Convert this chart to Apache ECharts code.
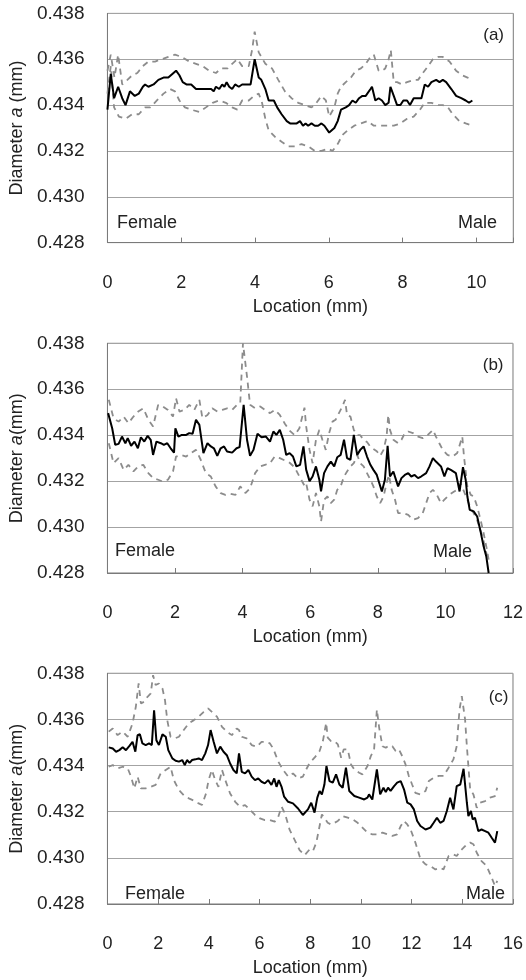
<!DOCTYPE html>
<html><head><meta charset="utf-8">
<script src="https://cdn.jsdelivr.net/npm/echarts@6/dist/echarts.min.js"></script>
<style>html,body{margin:0;padding:0;background:#fff}#c{width:526px;height:980px}</style>
</head><body><div id="c"></div>
<script>
// ---- axis settings ----
const yMin = 0.428, yMax = 0.438, yStep = 0.002;
const xMaxA = 11, xMaxB = 12, xMaxC = 16, xStep = 2;
const panelTags = ['(a)', '(b)', '(c)'];
const endLabels = ['Female', 'Male'];
const yNames = ['Diameter |a| (mm)', 'Diameter |a|(mm)', 'Diameter |a|(mm)'];

// ---- panel (a) ----
const meanA = [[0,0.4338],[0.09,0.43536],[0.18,0.4343],[0.29,0.4348],[0.40,0.4343],[0.49,0.4340],[0.61,0.4346],[0.74,0.4344],[0.85,0.4345],[0.96,0.4348],[1.02,0.4349],[1.11,0.4348],[1.25,0.4349],[1.38,0.4351],[1.52,0.4352],[1.65,0.4352],[1.79,0.4354],[1.86,0.4355],[1.95,0.4353],[2.04,0.4350],[2.14,0.4349],[2.27,0.4349],[2.40,0.4347],[2.54,0.4347],[2.67,0.4347],[2.81,0.4347],[2.88,0.4346],[2.94,0.4348],[3.03,0.4347],[3.11,0.4349],[3.17,0.4348],[3.23,0.4350],[3.30,0.4348],[3.38,0.4347],[3.46,0.4349],[3.56,0.4348],[3.65,0.4349],[3.88,0.4349],[3.99,0.4360],[4.10,0.4352],[4.17,0.4351],[4.28,0.4347],[4.37,0.4342],[4.51,0.4342],[4.60,0.4339],[4.72,0.4336],[4.86,0.4333],[4.95,0.4332],[5.13,0.4332],[5.22,0.4333],[5.30,0.4331],[5.37,0.4332],[5.44,0.4331],[5.53,0.4332],[5.62,0.4331],[5.71,0.4331],[5.80,0.4332],[5.88,0.4331],[6.01,0.4328],[6.15,0.4330],[6.24,0.4333],[6.33,0.4338],[6.46,0.4339],[6.55,0.4340],[6.64,0.4342],[6.73,0.4341],[6.82,0.4343],[6.91,0.4344],[7.00,0.4344],[7.13,0.4347],[7.17,0.4348],[7.26,0.4342],[7.35,0.4343],[7.44,0.4342],[7.53,0.4340],[7.62,0.4341],[7.67,0.4348],[7.76,0.4344],[7.85,0.4340],[7.94,0.4340],[8.02,0.4342],[8.12,0.4342],[8.20,0.4340],[8.30,0.4343],[8.37,0.4343],[8.51,0.4343],[8.60,0.4349],[8.69,0.4348],[8.78,0.4350],[8.91,0.4351],[9.00,0.4350],[9.09,0.4351],[9.18,0.4350],[9.32,0.4347],[9.45,0.4344],[9.59,0.4343],[9.71,0.4342],[9.80,0.4341],[9.89,0.4342]];
const upperA = [[0,0.4355],[0.09,0.4362],[0.19,0.4352],[0.29,0.4362],[0.40,0.4349],[0.54,0.4351],[0.67,0.4353],[0.81,0.4354],[0.96,0.4357],[1.11,0.4359],[1.29,0.4359],[1.47,0.4360],[1.65,0.4361],[1.83,0.4362],[2.01,0.4361],[2.22,0.4359],[2.40,0.4358],[2.58,0.4357],[2.76,0.4355],[2.94,0.4354],[3.08,0.4356],[3.26,0.4356],[3.38,0.4358],[3.52,0.4360],[3.65,0.4357],[3.83,0.4357],[3.92,0.4364],[3.99,0.4372],[4.10,0.4363],[4.28,0.4358],[4.46,0.4356],[4.63,0.4351],[4.81,0.4346],[4.99,0.4343],[5.17,0.4341],[5.35,0.4340],[5.53,0.4339],[5.62,0.4340],[5.80,0.4344],[5.92,0.4342],[6.01,0.4335],[6.15,0.4339],[6.24,0.4345],[6.33,0.4348],[6.46,0.4350],[6.60,0.4352],[6.73,0.4355],[6.87,0.4356],[7.00,0.4358],[7.13,0.4361],[7.22,0.4362],[7.35,0.4355],[7.44,0.4355],[7.53,0.4356],[7.62,0.4360],[7.68,0.4364],[7.76,0.4350],[7.85,0.4350],[7.98,0.4349],[8.12,0.4350],[8.30,0.4351],[8.42,0.4351],[8.55,0.4354],[8.69,0.4357],[8.82,0.4360],[8.96,0.4361],[9.09,0.4361],[9.27,0.4359],[9.45,0.4355],[9.62,0.4353],[9.76,0.4352],[9.89,0.4351]];
const lowerA = [[0,0.4345],[0.09,0.4357],[0.18,0.4339],[0.31,0.4335],[0.49,0.4334],[0.67,0.4336],[0.85,0.4336],[1.02,0.4339],[1.16,0.4339],[1.34,0.4342],[1.52,0.4345],[1.70,0.4347],[1.83,0.4346],[1.95,0.4342],[2.10,0.4339],[2.27,0.4338],[2.49,0.4337],[2.67,0.4339],[2.85,0.4341],[3.03,0.4342],[3.21,0.4341],[3.38,0.4339],[3.52,0.4338],[3.65,0.4342],[3.83,0.4342],[3.97,0.4344],[4.10,0.4345],[4.19,0.4341],[4.28,0.4334],[4.37,0.4329],[4.55,0.4326],[4.72,0.4324],[4.90,0.4322],[5.08,0.4322],[5.26,0.4323],[5.44,0.4322],[5.62,0.4320],[5.80,0.4320],[5.97,0.4321],[6.10,0.4320],[6.24,0.4323],[6.37,0.4327],[6.51,0.4329],[6.69,0.4331],[6.87,0.4332],[7.05,0.4333],[7.22,0.4331],[7.40,0.4331],[7.58,0.4331],[7.76,0.4331],[7.94,0.4332],[8.12,0.4334],[8.30,0.4335],[8.47,0.4338],[8.60,0.4341],[8.78,0.4341],[8.96,0.4340],[9.09,0.4340],[9.23,0.4339],[9.36,0.4336],[9.54,0.4333],[9.71,0.4332],[9.89,0.4331]];

// ---- panel (b) ----
const meanB = [[0.02,0.43496],[0.14,0.4343],[0.23,0.43358],[0.33,0.43362],[0.43,0.43394],[0.53,0.43365],[0.60,0.43387],[0.70,0.43354],[0.80,0.43372],[0.90,0.43343],[0.99,0.43391],[1.09,0.43372],[1.19,0.43397],[1.28,0.4338],[1.35,0.43314],[1.45,0.43372],[1.58,0.43365],[1.67,0.43358],[1.77,0.43365],[1.87,0.43343],[1.97,0.43324],[2.01,0.4343],[2.10,0.43394],[2.20,0.43401],[2.33,0.43401],[2.42,0.43409],[2.52,0.43406],[2.62,0.43467],[2.72,0.43445],[2.84,0.43322],[2.96,0.43365],[3.06,0.43351],[3.15,0.43343],[3.25,0.4331],[3.35,0.43343],[3.45,0.43351],[3.54,0.43329],[3.69,0.43324],[3.82,0.43343],[3.91,0.43348],[4.03,0.43532],[4.13,0.4338],[4.22,0.4331],[4.32,0.43336],[4.44,0.43406],[4.56,0.43391],[4.69,0.43394],[4.81,0.43372],[4.91,0.43416],[5.0,0.43401],[5.1,0.43423],[5.2,0.4338],[5.29,0.43314],[5.39,0.43322],[5.49,0.43307],[5.59,0.43264],[5.7,0.43271],[5.8,0.43351],[5.88,0.4325],[5.98,0.4320],[6.07,0.4322],[6.17,0.43264],[6.27,0.43206],[6.32,0.43155],[6.41,0.43235],[6.51,0.43264],[6.61,0.43285],[6.71,0.43264],[6.80,0.43304],[6.90,0.43314],[7.00,0.4338],[7.09,0.433],[7.19,0.43293],[7.29,0.43401],[7.39,0.43314],[7.48,0.43336],[7.58,0.43351],[7.68,0.43307],[7.78,0.43271],[7.87,0.43249],[7.97,0.43227],[8.12,0.43155],[8.21,0.43206],[8.29,0.43354],[8.36,0.4322],[8.46,0.43242],[8.60,0.43177],[8.70,0.43213],[8.80,0.43227],[8.90,0.43235],[8.99,0.4322],[9.09,0.43227],[9.19,0.43213],[9.28,0.4322],[9.43,0.43235],[9.53,0.43264],[9.63,0.433],[9.72,0.43285],[9.87,0.43264],[9.97,0.4322],[10.06,0.43256],[10.16,0.43249],[10.31,0.43235],[10.42,0.43155],[10.52,0.43261],[10.60,0.43206],[10.65,0.43133],[10.72,0.43075],[10.84,0.43068],[10.94,0.43046],[11.04,0.42981],[11.13,0.42916],[11.21,0.42872],[11.28,0.4280]];
const upperB = [[0.04,0.43554],[0.18,0.43474],[0.33,0.43459],[0.48,0.43481],[0.62,0.43452],[0.77,0.43481],[0.91,0.43503],[1.06,0.43517],[1.21,0.43467],[1.35,0.43438],[1.50,0.43532],[1.64,0.43525],[1.79,0.4351],[1.94,0.43481],[2.03,0.43561],[2.13,0.43503],[2.28,0.4351],[2.42,0.43532],[2.57,0.4351],[2.72,0.43554],[2.81,0.43474],[2.96,0.43488],[3.10,0.43517],[3.25,0.43503],[3.40,0.4351],[3.54,0.43517],[3.69,0.4351],[3.83,0.43532],[3.93,0.43539],[4.01,0.438],[4.13,0.43655],[4.22,0.43532],[4.37,0.43517],[4.52,0.43525],[4.66,0.4351],[4.81,0.43496],[4.95,0.4351],[5.10,0.43488],[5.25,0.4345],[5.39,0.4342],[5.54,0.4340],[5.68,0.4343],[5.83,0.4352],[5.88,0.43438],[5.98,0.43336],[6.07,0.43278],[6.17,0.4338],[6.27,0.43423],[6.36,0.4338],[6.46,0.43336],[6.56,0.43409],[6.66,0.43459],[6.75,0.43467],[6.85,0.43496],[6.95,0.43525],[7.03,0.43554],[7.09,0.43488],[7.19,0.43481],[7.29,0.43423],[7.39,0.43400],[7.48,0.4340],[7.58,0.4338],[7.68,0.4337],[7.78,0.4335],[7.87,0.4334],[7.97,0.4333],[8.07,0.4331],[8.17,0.43336],[8.26,0.43394],[8.31,0.43488],[8.36,0.43423],[8.46,0.4338],[8.60,0.43365],[8.70,0.4338],[8.80,0.43409],[8.90,0.43416],[9.04,0.43409],[9.19,0.43394],[9.33,0.43387],[9.48,0.43401],[9.63,0.43423],[9.72,0.43394],[9.82,0.43365],[9.92,0.43336],[10.06,0.43314],[10.21,0.43307],[10.35,0.43322],[10.50,0.43394],[10.55,0.43307],[10.65,0.43177],[10.75,0.4314],[10.84,0.43133],[10.94,0.4309],[11.04,0.43032],[11.13,0.42974],[11.23,0.42901],[11.28,0.42858]];
const lowerB = [[0.04,0.43365],[0.18,0.43278],[0.33,0.433],[0.48,0.43249],[0.62,0.43271],[0.77,0.43242],[0.91,0.43264],[1.06,0.43271],[1.21,0.43235],[1.35,0.43213],[1.50,0.43206],[1.64,0.43198],[1.79,0.43206],[1.94,0.43242],[2.03,0.43307],[2.18,0.43314],[2.33,0.43307],[2.47,0.43322],[2.62,0.43336],[2.76,0.43293],[2.91,0.43235],[3.06,0.4322],[3.20,0.43177],[3.35,0.43148],[3.49,0.4314],[3.64,0.43145],[3.79,0.4314],[3.93,0.43177],[4.08,0.43148],[4.22,0.43169],[4.37,0.43235],[4.52,0.43264],[4.66,0.43271],[4.81,0.43278],[4.95,0.43307],[5.10,0.4330],[5.25,0.4329],[5.39,0.4328],[5.54,0.4326],[5.68,0.4322],[5.83,0.4318],[5.88,0.43191],[5.98,0.43119],[6.07,0.4309],[6.17,0.43148],[6.27,0.4309],[6.32,0.43024],[6.41,0.43119],[6.51,0.43133],[6.61,0.43104],[6.71,0.43119],[6.80,0.43162],[6.90,0.43177],[7.00,0.4322],[7.09,0.43242],[7.19,0.43264],[7.29,0.43278],[7.39,0.43314],[7.48,0.43278],[7.58,0.43264],[7.68,0.43235],[7.78,0.43206],[7.87,0.43177],[7.97,0.43133],[8.07,0.43104],[8.17,0.43133],[8.26,0.43191],[8.33,0.43227],[8.41,0.43162],[8.51,0.43119],[8.60,0.43061],[8.75,0.43061],[8.90,0.43053],[9.04,0.43032],[9.19,0.43039],[9.33,0.43061],[9.43,0.43104],[9.53,0.43148],[9.63,0.43162],[9.72,0.43148],[9.87,0.43104],[9.97,0.43119],[10.11,0.4314],[10.26,0.43155],[10.35,0.43162],[10.45,0.43191],[10.55,0.43155],[10.65,0.43119],[10.75,0.4308],[10.84,0.4306],[10.94,0.4303],[11.04,0.42985],[11.13,0.4294],[11.23,0.42875]];

// ---- panel (c) ----
const meanC = [[0.05,0.43479],[0.21,0.43474],[0.34,0.4346],[0.47,0.43467],[0.60,0.43479],[0.73,0.43467],[0.86,0.43484],[0.99,0.43503],[1.10,0.4346],[1.19,0.43532],[1.28,0.43536],[1.38,0.43496],[1.51,0.43489],[1.64,0.43496],[1.75,0.43489],[1.84,0.4364],[1.93,0.4351],[2.03,0.43489],[2.17,0.43535],[2.30,0.43525],[2.40,0.43467],[2.56,0.43431],[2.69,0.43421],[2.82,0.43417],[2.95,0.43424],[3.05,0.43402],[3.14,0.43424],[3.24,0.43412],[3.34,0.43424],[3.47,0.43427],[3.60,0.43431],[3.73,0.43424],[3.86,0.43453],[3.97,0.43489],[4.07,0.43554],[4.19,0.43503],[4.32,0.43453],[4.45,0.43482],[4.58,0.4346],[4.71,0.43445],[4.84,0.43409],[4.97,0.43381],[5.10,0.43366],[5.19,0.43453],[5.30,0.43373],[5.43,0.43366],[5.56,0.43381],[5.69,0.43352],[5.82,0.43337],[5.95,0.43344],[6.08,0.4333],[6.21,0.43323],[6.34,0.43337],[6.47,0.43316],[6.58,0.43344],[6.67,0.43308],[6.76,0.43337],[6.87,0.43308],[6.97,0.43265],[7.13,0.43243],[7.32,0.43236],[7.52,0.43214],[7.71,0.43186],[7.78,0.43188],[7.91,0.4321],[8.04,0.43239],[8.17,0.43196],[8.28,0.43261],[8.37,0.4329],[8.46,0.43275],[8.56,0.43318],[8.64,0.43398],[8.76,0.43333],[8.89,0.43326],[9.02,0.43362],[9.15,0.43318],[9.28,0.43304],[9.41,0.43391],[9.54,0.4329],[9.74,0.43268],[9.93,0.43261],[10.13,0.43253],[10.26,0.43261],[10.32,0.43275],[10.45,0.43253],[10.63,0.43383],[10.76,0.43275],[10.89,0.43304],[10.98,0.43285],[11.07,0.43304],[11.17,0.4329],[11.31,0.43311],[11.43,0.43326],[11.57,0.43333],[11.70,0.43297],[11.83,0.43239],[11.96,0.43232],[12.09,0.4321],[12.22,0.4316],[12.35,0.43138],[12.55,0.43123],[12.74,0.43131],[12.87,0.43152],[13.00,0.43174],[13.13,0.43152],[13.26,0.4316],[13.39,0.43203],[13.52,0.43261],[13.65,0.4321],[13.78,0.43311],[13.92,0.43318],[14.05,0.43386],[14.18,0.43239],[14.24,0.43181],[14.34,0.43203],[14.41,0.43167],[14.50,0.43174],[14.63,0.43116],[14.76,0.43123],[14.90,0.43116],[15.03,0.43109],[15.16,0.43087],[15.29,0.43066],[15.38,0.43116]];
const upperC = [[0.05,0.43547],[0.21,0.43561],[0.40,0.43532],[0.60,0.43547],[0.80,0.43525],[0.99,0.43583],[1.12,0.43655],[1.23,0.43756],[1.32,0.43669],[1.45,0.43677],[1.58,0.43698],[1.71,0.43713],[1.80,0.43792],[1.90,0.43749],[2.03,0.43756],[2.17,0.43734],[2.27,0.43684],[2.36,0.43597],[2.49,0.43525],[2.66,0.43518],[2.82,0.43525],[3.01,0.43554],[3.21,0.43583],[3.41,0.43597],[3.60,0.43612],[3.80,0.43633],[3.97,0.43648],[4.12,0.43633],[4.32,0.43612],[4.52,0.43568],[4.71,0.43547],[4.91,0.43532],[5.10,0.43561],[5.19,0.43554],[5.30,0.43525],[5.49,0.43518],[5.69,0.43489],[5.89,0.43482],[6.08,0.43503],[6.28,0.43503],[6.41,0.43496],[6.54,0.43474],[6.74,0.43417],[6.93,0.43381],[7.13,0.43352],[7.32,0.43366],[7.52,0.43344],[7.71,0.43352],[7.84,0.43383],[7.98,0.43412],[8.17,0.43434],[8.37,0.43463],[8.50,0.43506],[8.63,0.43586],[8.69,0.43521],[8.82,0.43506],[8.96,0.43506],[9.09,0.43492],[9.22,0.43434],[9.32,0.4347],[9.48,0.4347],[9.61,0.43405],[9.74,0.43383],[9.93,0.43369],[10.06,0.43362],[10.26,0.43398],[10.39,0.43441],[10.52,0.4347],[10.63,0.43643],[10.72,0.43564],[10.85,0.43484],[10.98,0.43477],[11.11,0.43487],[11.24,0.43484],[11.37,0.43463],[11.50,0.4347],[11.63,0.43441],[11.76,0.43405],[11.89,0.43355],[12.02,0.43318],[12.15,0.43282],[12.35,0.43275],[12.55,0.4329],[12.68,0.43333],[12.87,0.43347],[13.07,0.43355],[13.26,0.43355],[13.46,0.43391],[13.65,0.43427],[13.78,0.43484],[13.89,0.43643],[13.98,0.43701],[14.11,0.436],[14.18,0.43484],[14.31,0.43297],[14.44,0.43275],[14.57,0.43217],[14.70,0.43239],[14.90,0.43246],[15.09,0.43261],[15.29,0.43268],[15.38,0.43304]];
const lowerC = [[0.05,0.43395],[0.21,0.43402],[0.40,0.43388],[0.60,0.43395],[0.80,0.43388],[0.93,0.43352],[1.06,0.43301],[1.19,0.43352],[1.32,0.43301],[1.51,0.43301],[1.71,0.43308],[1.90,0.43316],[2.10,0.43366],[2.30,0.43381],[2.49,0.43395],[2.62,0.43337],[2.82,0.43294],[3.01,0.43272],[3.21,0.43258],[3.41,0.43248],[3.60,0.43236],[3.73,0.43229],[3.89,0.43279],[3.99,0.43337],[4.12,0.43381],[4.25,0.43337],[4.38,0.43308],[4.52,0.43381],[4.65,0.43337],[4.84,0.43279],[5.04,0.43243],[5.23,0.43222],[5.43,0.43229],[5.63,0.43207],[5.82,0.43186],[6.02,0.43171],[6.21,0.43164],[6.41,0.43164],[6.60,0.43157],[6.74,0.43178],[6.87,0.43222],[7.00,0.43193],[7.19,0.43121],[7.39,0.43077],[7.58,0.43034],[7.78,0.43012],[7.98,0.43037],[8.11,0.4303],[8.24,0.43066],[8.37,0.43138],[8.46,0.43188],[8.56,0.43174],[8.69,0.43152],[8.82,0.43145],[8.96,0.43152],[9.09,0.4316],[9.28,0.43181],[9.48,0.43174],[9.67,0.43167],[9.87,0.43152],[10.06,0.43131],[10.26,0.43109],[10.45,0.43102],[10.65,0.43102],[10.85,0.43109],[11.04,0.43102],[11.24,0.43095],[11.43,0.43102],[11.57,0.43138],[11.70,0.4316],[11.83,0.43145],[11.96,0.43123],[12.15,0.43066],[12.35,0.42994],[12.55,0.42972],[12.74,0.42965],[12.94,0.4295],[13.13,0.42957],[13.26,0.4295],[13.46,0.43008],[13.65,0.43015],[13.78,0.43008],[13.92,0.4303],[14.05,0.43044],[14.18,0.43059],[14.31,0.43066],[14.44,0.43059],[14.57,0.43022],[14.76,0.42986],[14.96,0.42965],[15.16,0.42914],[15.29,0.42878],[15.38,0.429]];

const FONT = '"Liberation Sans", Arial, sans-serif';
const BORDER = '#7a7a7a', GRIDC = '#a3a3a3', DASHC = '#8c8c8c';

const grids = [
  {left: 103.3, width: 410, top: 13.4, height: 229.2},
  {left: 102, width: 411.3, top: 343.3, height: 229.7},
  {left: 104.7, width: 408.6, top: 673.3, height: 230.7}
];
const xMaxes = [xMaxA, xMaxB, xMaxC];
const series = [];
const panels = [[meanA, upperA, lowerA], [meanB, upperB, lowerB], [meanC, upperC, lowerC]];

const xAxes = grids.map((g, i) => ({
  type: 'value', gridIndex: i, min: 0, max: xMaxes[i], interval: xStep,
  name: 'Location (mm)', nameLocation: 'middle', nameGap: 55,
  nameTextStyle: {fontFamily: FONT, fontSize: 18, color: '#222'},
  axisLine: {show: true, onZero: false, lineStyle: {color: BORDER, width: 1}},
  axisTick: {show: true, inside: true, length: 5, lineStyle: {color: BORDER}},
  axisLabel: {margin: 31, fontFamily: FONT, fontSize: 18, color: '#222',
    formatter: v => (Math.abs(v / xStep - Math.round(v / xStep)) < 1e-6 ? String(v) : '')},
  splitLine: {show: false}
}));
const yAxes = grids.map((g, i) => {
  const parts = yNames[i].split('|');
  return {
    type: 'value', gridIndex: i, min: yMin, max: yMax, interval: yStep,
    name: '{n|' + parts[0] + '}{i|' + parts[1] + '}{n|' + parts[2] + '}',
    nameLocation: 'middle', nameGap: 76,
    nameTextStyle: {fontFamily: FONT, fontSize: 18, color: '#222',
      rich: {n: {fontFamily: FONT, fontSize: 18, color: '#222'}, i: {fontFamily: FONT, fontSize: 18, color: '#222', fontStyle: 'italic'}}},
    axisLine: {show: true, lineStyle: {color: BORDER, width: 1}},
    axisTick: {show: false},
    axisLabel: {margin: 23, fontFamily: FONT, fontSize: 19, color: '#222', formatter: v => v.toFixed(3)},
    splitLine: {show: true, lineStyle: {color: GRIDC, width: 1}}
  };
});

panels.forEach((p, i) => {
  series.push({type: 'line', xAxisIndex: i, yAxisIndex: i, data: p[1], showSymbol: false, silent: true,
    lineStyle: {color: DASHC, width: 1.8, type: [6, 5]}, z: 2});
  series.push({type: 'line', xAxisIndex: i, yAxisIndex: i, data: p[2], showSymbol: false, silent: true,
    lineStyle: {color: DASHC, width: 1.8, type: [6, 5]}, z: 2});
  series.push({type: 'line', xAxisIndex: i, yAxisIndex: i, data: p[0], showSymbol: false, silent: true,
    lineStyle: {color: '#000', width: 2}, z: 3});
});

const annPos = [
  {female: [117, 223.5], male: [497, 223.5], tag: [504, 35]},
  {female: [115, 551.5], male: [472, 552], tag: [503.5, 365.5]},
  {female: [125, 894], male: [505, 894], tag: [508.5, 697]}
];
const graphic = [];
annPos.forEach((a, i) => {
  graphic.push({type: 'text', x: a.female[0], y: a.female[1], z: 10,
    style: {text: endLabels[0], font: '18px ' + FONT, fill: '#222', textAlign: 'left', textVerticalAlign: 'middle'}});
  graphic.push({type: 'text', x: a.male[0], y: a.male[1], z: 10,
    style: {text: endLabels[1], font: '18px ' + FONT, fill: '#222', textAlign: 'right', textVerticalAlign: 'middle'}});
  graphic.push({type: 'text', x: a.tag[0], y: a.tag[1], z: 10,
    style: {text: panelTags[i], font: '17px ' + FONT, fill: '#222', textAlign: 'right', textVerticalAlign: 'middle'}});
});

const chart = echarts.init(document.getElementById('c'), null, {renderer: 'canvas'});
chart.setOption({
  animation: false,
  backgroundColor: '#fff',
  grid: grids.map(g => Object.assign({show: true, borderColor: BORDER, borderWidth: 1, backgroundColor: 'transparent'}, g)),
  xAxis: xAxes,
  yAxis: yAxes,
  series: series,
  graphic: graphic
});
</script></body></html>
